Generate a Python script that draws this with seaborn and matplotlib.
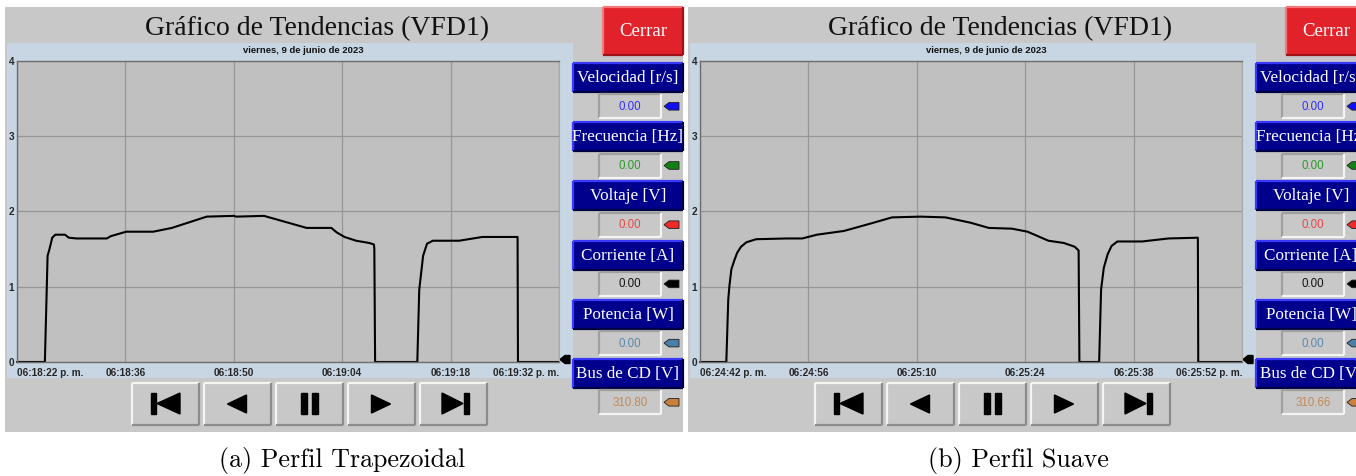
import numpy as np
import pandas as pd
import matplotlib.pyplot as plt
import seaborn as sns
from matplotlib.patches import Rectangle, Polygon

# --- data (seconds from window start, value) ---
t_trap = [0, 3.6, 3.95, 4.2, 4.55, 4.95, 6.2, 6.7, 7.7, 11.6, 12.1, 14.1, 17.6, 20.0, 24.5,
          28.0, 28.3, 31.9, 37.4, 40.6, 41.3, 42.3, 43.8, 45.5, 46.1, 46.15, 46.25, 51.7, 51.95,
          52.45, 52.95, 53.7, 57.1, 60.1, 64.65, 64.7, 70]
v_trap = [0, 0, 1.41, 1.5, 1.65, 1.69, 1.69, 1.65, 1.64, 1.64, 1.67, 1.73, 1.73, 1.78, 1.93,
          1.94, 1.93, 1.94, 1.78, 1.78, 1.72, 1.66, 1.61, 1.58, 1.56, 1.50, 0, 0, 0.96,
          1.41, 1.57, 1.61, 1.61, 1.66, 1.66, 0, 0]

t_suave = [0, 3.4, 3.65, 3.8, 4.05, 4.4, 4.8, 5.3, 6.0, 7.25, 11.2, 13.2, 15.1, 18.6, 22.1,
           24.8, 28.5, 31.7, 34.9, 37.3, 40.3, 42.3, 45.0, 47.0, 48.4, 48.9, 49.0, 51.55, 51.8,
           52.15, 52.65, 53.15, 53.9, 57.1, 60.5, 64.3, 64.35, 70]
v_suave = [0, 0, 0.83, 1.01, 1.23, 1.34, 1.45, 1.53, 1.59, 1.63, 1.64, 1.64, 1.69, 1.74, 1.84,
           1.92, 1.93, 1.92, 1.85, 1.78, 1.77, 1.73, 1.61, 1.58, 1.53, 1.48, 0, 0, 0.96,
           1.25, 1.43, 1.54, 1.60, 1.60, 1.64, 1.65, 0, 0]

tick_sec = [0, 14, 28, 42, 56, 70]
labels_trap = ['06:18:22 p. m.', '06:18:36', '06:18:50', '06:19:04', '06:19:18', '06:19:32 p. m.']
labels_suave = ['06:24:42 p. m.', '06:24:56', '06:25:10', '06:25:24', '06:25:38', '06:25:52 p. m.']

var_names = ['Velocidad [r/s]', 'Frecuencia [Hz]', 'Voltaje [V]', 'Corriente [A]', 'Potencia [W]', 'Bus de CD [V]']
var_trap = ['0.00', '0.00', '0.00', '0.00', '0.00', '310.80']
var_suave = ['0.00', '0.00', '0.00', '0.00', '0.00', '310.66']
var_text_colors = ['#3030ff', '#2a9a2a', '#e84848', '#111111', '#5a8aaa', '#c08a58']
var_tag_colors = ['#1010f0', '#128012', '#ee2a2a', '#000000', '#4a7fa8', '#c8803c']

captions = ['(a) Perfil Trapezoidal', '(b) Perfil Suave']

W, H = 1356, 476
sns.set_style('white')

fig = plt.figure(figsize=(W / 100, H / 100), dpi=100)
fig.patch.set_facecolor('white')
bg = fig.add_axes([0, 0, 1, 1])
bg.set_xlim(0, W)
bg.set_ylim(H, 0)
bg.axis('off')
bg.set_zorder(0)


def bevel(x, y, w, h, face, light, dark, lw=1.4):
    bg.add_patch(Rectangle((x, y), w, h, facecolor=face, edgecolor='none'))
    bg.plot([x, x + w], [y, y], color=light, lw=lw, solid_capstyle='butt')
    bg.plot([x, x], [y, y + h], color=light, lw=lw, solid_capstyle='butt')
    bg.plot([x, x + w], [y + h, y + h], color=dark, lw=lw, solid_capstyle='butt')
    bg.plot([x + w, x + w], [y, y + h], color=dark, lw=lw, solid_capstyle='butt')


def nav_icon(k, cx, cy=404):
    if k == 0:
        bg.add_patch(Rectangle((cx - 14.5, cy - 11), 5.5, 21, color='black'))
        bg.add_patch(Polygon([(cx - 8, cy - 0.5), (cx + 15, cy - 11), (cx + 15, cy + 10)], color='black'))
    elif k == 1:
        bg.add_patch(Polygon([(cx - 9.5, cy), (cx + 9.5, cy - 9), (cx + 9.5, cy + 9)], color='black'))
    elif k == 2:
        bg.add_patch(Rectangle((cx - 8.5, cy - 11), 6, 21, color='black'))
        bg.add_patch(Rectangle((cx + 2.5, cy - 11), 6, 21, color='black'))
    elif k == 3:
        bg.add_patch(Polygon([(cx + 9.5, cy), (cx - 9.5, cy - 9), (cx - 9.5, cy + 9)], color='black'))
    else:
        bg.add_patch(Polygon([(cx - 11, cy - 11), (cx - 11, cy + 10), (cx + 10, cy - 0.5)], color='black'))
        bg.add_patch(Rectangle((cx + 10.5, cy - 11), 5.5, 21, color='black'))


def draw_panel(dx, t, v, xlabels, values, caption, cap_x):
    # HMI window background
    bg.add_patch(Rectangle((5 + dx, 7), 678, 425, facecolor='#c8c8c8', edgecolor='none'))
    bg.text(317 + dx, 29, 'Gráfico de Tendencias (VFD1)', ha='center', va='center',
            fontsize=20, family='Liberation Serif', color='#111111', clip_on=True)
    bevel(603 + dx, 7, 80, 48, '#e2222a', '#f27a7a', '#a01018', lw=1.6)
    bg.text(643 + dx, 31, 'Cerrar', ha='center', va='center', fontsize=13.5,
            family='Liberation Serif', color='white', clip_on=True)

    # trend frame
    bg.add_patch(Rectangle((7 + dx, 43), 565.5, 335, facecolor='#c8d6e4', edgecolor='none'))
    bg.text(303 + dx, 50.5, 'viernes, 9 de junio de 2023', ha='center', va='center',
            fontsize=6.8, fontweight='bold', family='Liberation Sans', color='#111111', clip_on=True)
    bg.add_patch(Polygon([(560 + dx, 359.5), (565 + dx, 355.5), (570 + dx, 355.5),
                          (570 + dx, 363.5), (565 + dx, 363.5)], color='black'))

    # variable buttons and readouts
    for i, name in enumerate(var_names):
        by = 63 + 59.2 * i
        bevel(573 + dx, by, 110, 29, '#00008c', '#3a3aff', '#000040', lw=1.6)
        bg.text(628 + dx, by + 15, name, ha='center', va='center', fontsize=12.3,
                family='Liberation Serif', color='white', clip_on=True)
        vy = 94.3 + 59.2 * i
        bevel(599 + dx, vy, 62, 24, '#c8c8c8', '#a0a0a0', '#f4f4f4', lw=1.6)
        bg.text(630 + dx, vy + 12.5, values[i], ha='center', va='center', fontsize=8.3,
                family='Liberation Sans', color=var_text_colors[i], clip_on=True)
        yc = vy + 12
        bg.add_patch(Polygon([(664 + dx, yc), (669 + dx, yc - 3.8), (679 + dx, yc - 3.8),
                              (679 + dx, yc + 3.8), (669 + dx, yc + 3.8)],
                             facecolor=var_tag_colors[i], edgecolor='#202020', lw=0.6))

    # navigation buttons
    for k in range(5):
        x0 = 131.5 + 72 * k + dx
        bevel(x0, 383, 67, 42, '#c8c8c8', '#f4f4f4', '#8c8c8c', lw=1.6)
        nav_icon(k, x0 + 33.5)

    bg.text(cap_x, 461, caption, ha='center', va='center', fontsize=18.7,
            family='cmr10', color='black')

    # trend plot
    ax = fig.add_axes([(17 + dx) / W, 1 - 362 / H, 542 / W, (362 - 60.7) / H])
    ax.set_zorder(2)
    ax.set_facecolor('#c0c0c0')
    df = pd.DataFrame({'t': t, 'v': v})
    sns.lineplot(data=df, x='t', y='v', ax=ax, color='black', lw=1.5,
                 estimator=None, sort=False, clip_on=False)
    ax.set_xlim(0, 70)
    ax.set_ylim(0, 4)
    ax.set_xlabel('')
    ax.set_ylabel('')
    ax.set_xticks(tick_sec, xlabels, fontsize=7.2, fontweight='bold', family='Liberation Sans')
    ax.set_yticks([0, 1, 2, 3, 4], ['0', '1', '2', '3', '4'], fontsize=7.2, fontweight='bold',
                  family='Liberation Sans')
    xl = ax.get_xticklabels()
    xl[0].set_ha('left')
    xl[-1].set_ha('right')
    ax.tick_params(length=0)
    ax.tick_params(axis='x', pad=4)
    ax.tick_params(axis='y', pad=2)
    ax.grid(True, color='#979797', lw=0.9)
    for side in ['top', 'left', 'bottom']:
        ax.spines[side].set_color('#6e6e6e')
        ax.spines[side].set_linewidth(1)
    ax.spines['right'].set_color('#a8a8a8')
    ax.spines['right'].set_linewidth(0.8)
    return ax


draw_panel(0, t_trap, v_trap, labels_trap, var_trap, captions[0], 342)
draw_panel(683, t_suave, v_suave, labels_suave, var_suave, captions[1], 1018)

fig.savefig('out.png', dpi=100)
